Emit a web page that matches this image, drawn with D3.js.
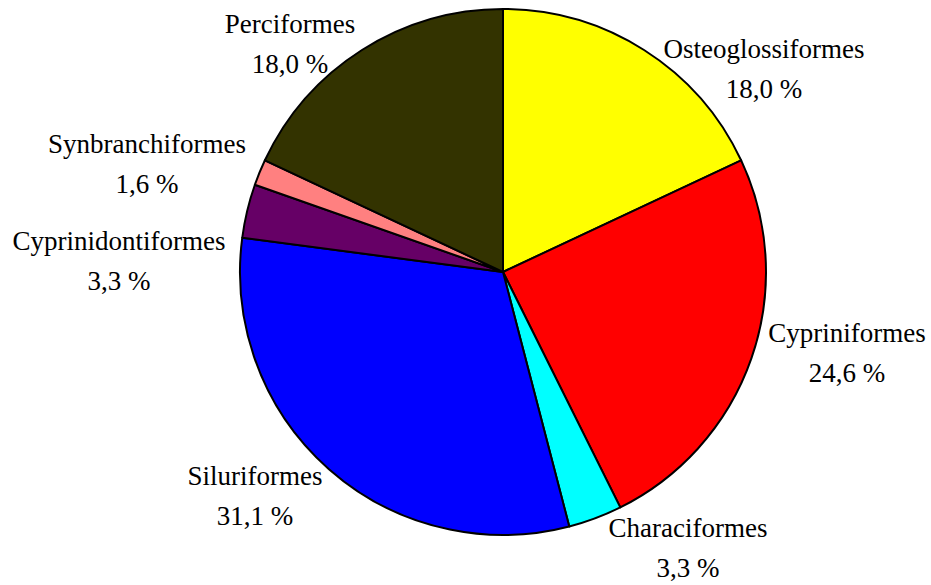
<!DOCTYPE html>
<html>
<head>
<meta charset="utf-8">
<script src="https://cdn.jsdelivr.net/npm/d3@7"></script>
<style>
  body { margin: 0; background: #fff; }
</style>
</head>
<body>
<div id="chart"></div>
<script>
// Orders of fish, clockwise from 12 o'clock
var orders = ["Osteoglossiformes", "Cypriniformes", "Characiformes", "Siluriformes",
              "Cyprinidontiformes", "Synbranchiformes", "Perciformes"];
var shares = [18.0, 24.6, 3.3, 31.1, 3.3, 1.6, 18.0];
var colors = ["#ffff00", "#ff0000", "#00ffff", "#0000ff", "#660066", "#ff8080", "#333300"];

// where the label of each slice sits (centre x, baseline y of first line)
var labelPos = [[764, 58], [847, 342], [688, 537], [255, 485], [119, 250], [147, 153], [290, 33]];

var width = 931, height = 585;
var cx = 503, cy = 272, radius = 263;

var svg = d3.select("#chart").append("svg")
    .attr("width", width)
    .attr("height", height);

var pie = d3.pie().sort(null).value(d => d.value);
var arc = d3.arc().innerRadius(0).outerRadius(radius);

var data = orders.map((name, i) => ({ name: name, value: shares[i], color: colors[i], pos: labelPos[i] }));

var g = svg.append("g").attr("transform", `translate(${cx}, ${cy})`);

g.selectAll("path")
    .data(pie(data))
    .enter()
    .append("path")
    .attr("d", arc)
    .attr("fill", d => d.data.color)
    .attr("stroke", "#000")
    .attr("stroke-width", 2)
    .attr("stroke-linejoin", "round");

// labels: name on one line, percent below it
var fmt = v => v.toFixed(1).replace(".", ",") + " %";

var labels = svg.selectAll("text.lbl")
    .data(data)
    .enter()
    .append("text")
    .attr("class", "lbl")
    .attr("text-anchor", "middle")
    .attr("font-family", "'Liberation Serif', 'Times New Roman', Times, serif")
    .attr("font-size", "27px")
    .attr("fill", "#000");

labels.append("tspan")
    .attr("x", d => d.pos[0])
    .attr("y", d => d.pos[1])
    .text(d => d.name);

labels.append("tspan")
    .attr("x", d => d.pos[0])
    .attr("y", d => d.pos[1] + 40)
    .text(d => fmt(d.value));
</script>
</body>
</html>
